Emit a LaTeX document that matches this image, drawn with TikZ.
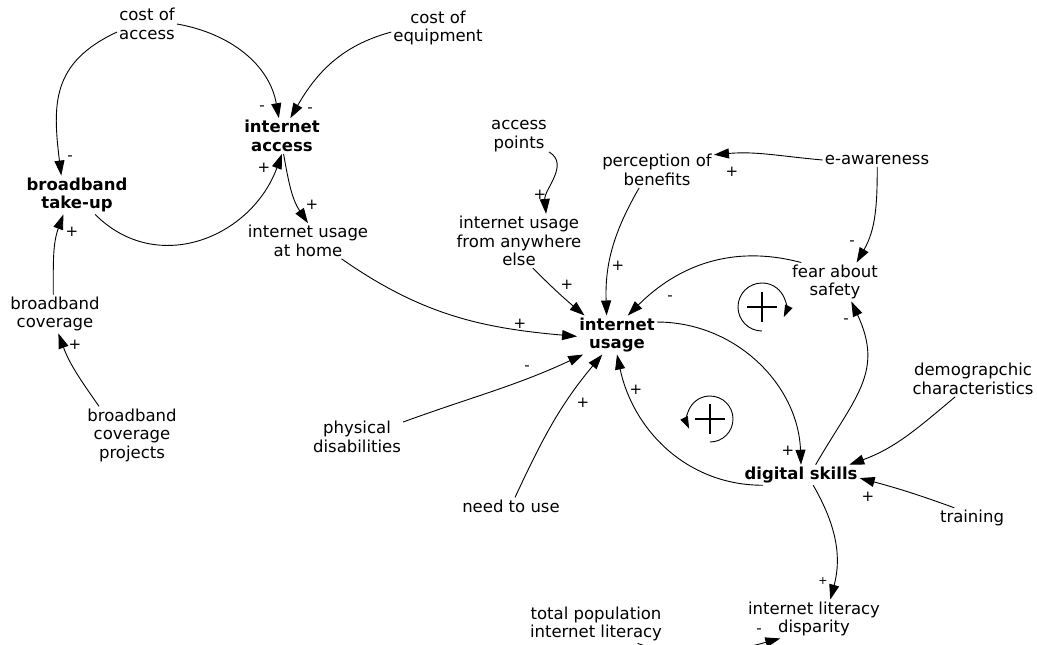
\documentclass[tikz,border=0pt]{standalone}
\usepackage{fontspec}
\setmainfont{DejaVu Sans}
\usetikzlibrary{arrows.meta}

\begin{document}
\begin{tikzpicture}[x=1pt,y=-1pt,
    var/.style={align=center, inner sep=2pt, font=\fontsize{16.5}{18.5}\selectfont},
    keyvar/.style={var, font=\fontsize{16.5}{18.5}\selectfont\bfseries},
    pol/.style={inner sep=0pt, font=\fontsize{15}{15}\selectfont},
    link/.style={line width=0.9pt, -{Triangle[length=15pt,width=10pt]}}]
\useasboundingbox (0,0) rectangle (1037,645);

% variables
\node[var] (coa) at (147,24) {cost of\\access};
\node[var] (coe) at (438,28) {cost of\\equipment};
\node[keyvar] (ia) at (282,136) {internet\\access};
\node[keyvar] (bb) at (77,195) {broadband\\take-up};
\node[var] (iuh) at (308,241) {internet usage\\at home};
\node[var] (bc) at (55,314) {broadband\\coverage};
\node[var] (bcp) at (132,435) {broadband\\coverage\\projects};
\node[var] (ap) at (519,136) {access\\points};
\node[var] (iua) at (519,241) {internet usage\\from anywhere\\else};
\node[var] (pb) at (657,170) {perception of\\benefits};
\node[var] (ea) at (877,160) {e-awareness};
\node[var] (fas) at (835,282) {fear about\\safety};
\node[keyvar] (iu) at (617,335) {internet\\usage};
\node[var] (pd) at (357,437) {physical\\disabilities};
\node[var] (ntu) at (511,506) {need to use};
\node[keyvar] (ds) at (801,475) {digital skills};
\node[var] (dc) at (973,379) {demograpchic\\characteristics};
\node[var] (tr) at (972,518) {training};
\node[var] (ild) at (814,619) {internet literacy\\disparity};
\node[var] (tpl) at (596,624) {total population\\internet literacy};

% links
\draw[link] (coa.east) to[out=-10,in=100] (ia.100);
\draw[link] (coa.195) to[out=205,in=97,looseness=1.2] (bb.129);
\draw[link] (coe.185) to[out=195,in=60] (ia.65);
\draw[link] (bb.-47) to[out=-45,in=-110,looseness=1.15] (ia.south);
\draw[link] (ia.-85) to[out=-80,in=124] (iuh.north);
\draw[link] (bc.95) to[out=90,in=-110] (bb.-125);
\draw[link] (bcp.139) to[out=125,in=-70] (bc.-80);
\draw[link] (iuh.-28) to[out=-35,in=175] (iu.182);
\draw[link] (ap.-28) to[out=-30,in=95] (iua.45);
\draw[link] (iua.-63) to[out=-45,in=140] (iu.149);
\draw[link] (pb.-135) to[out=-120,in=92] (iu.118);
\draw[link] (ea.west) to[out=175,in=5] (pb.15);
\draw[link] (ea.-88) to[out=-90,in=60] (fas.42);
\draw[link] (fas.150) to[out=165,in=45] (iu.61);
\draw[link] (iu.18) to[out=0,in=92] (ds.north);
\draw[link] (ds.-165) to[out=180,in=-78] (iu.south);
\draw[link] (ds.35) to[out=60,in=-65,looseness=1.2] (fas.-50);
\draw[link] (dc.-135) to[out=-140,in=20] (ds.12);
\draw[link] (tr.150) to[out=160,in=-15] (ds.-3);
\draw[link] (pd.18) to[out=20,in=-155] (iu.-150);
\draw[link] (ntu.65) to[out=65,in=-130] (iu.-127);
\draw[link] (ds.-40) to[out=-60,in=75] (ild.50);
\draw[link] (tpl.-25) to[out=-20,in=195] (ild.-150);

% polarities
\node[pol] (s1) at (262,108) {-};
\node[pol] (s2) at (70,158) {-};
\node[pol] (s3) at (310,110) {-};
\node[pol] (s4) at (264,168) {+};
\node[pol] (s5) at (312,205) {+};
\node[pol] (s6) at (72,232) {+};
\node[pol] (s7) at (75,345) {+};
\node[pol] (s8) at (520,324) {+};
\node[pol] (s9) at (540,195) {+};
\node[pol] (s10) at (567,285) {+};
\node[pol] (s11) at (618,266) {+};
\node[pol] (s12) at (732,172) {+};
\node[pol] (s13) at (852,243) {-};
\node[pol] (s14) at (670,298) {-};
\node[pol] (s15) at (788,451) {+};
\node[pol] (s16) at (636,390) {+};
\node[pol] (s17) at (846,321) {-};
\node[pol] (s19) at (868,497) {+};
\node[pol] (s20) at (527,368) {-};
\node[pol] (s21) at (583,403) {+};
\node[pol, font=\fontsize{11}{11}\selectfont] (s22) at (823,581) {+};
\node[pol] (s23) at (759,631) {-};

% loops
\coordinate (r1) at (762,307);
\coordinate (r2) at (710,419);
\draw[line width=0.9pt, -{Triangle[length=12pt,width=8pt]}] ([shift={(90:24)}]r1) arc[start angle=90, end angle=385, radius=24];
\draw[line width=1.4pt] ([xshift=-15pt]r1) -- ([xshift=15pt]r1) ([yshift=-15pt]r1) -- ([yshift=15pt]r1);
\draw[line width=0.9pt, -{Triangle[length=12pt,width=8pt]}] ([shift={(90:23)}]r2) arc[start angle=90, end angle=-205, radius=23];
\draw[line width=1.4pt] ([xshift=-15pt]r2) -- ([xshift=15pt]r2) ([yshift=-15pt]r2) -- ([yshift=15pt]r2);
\end{tikzpicture}
\end{document}
